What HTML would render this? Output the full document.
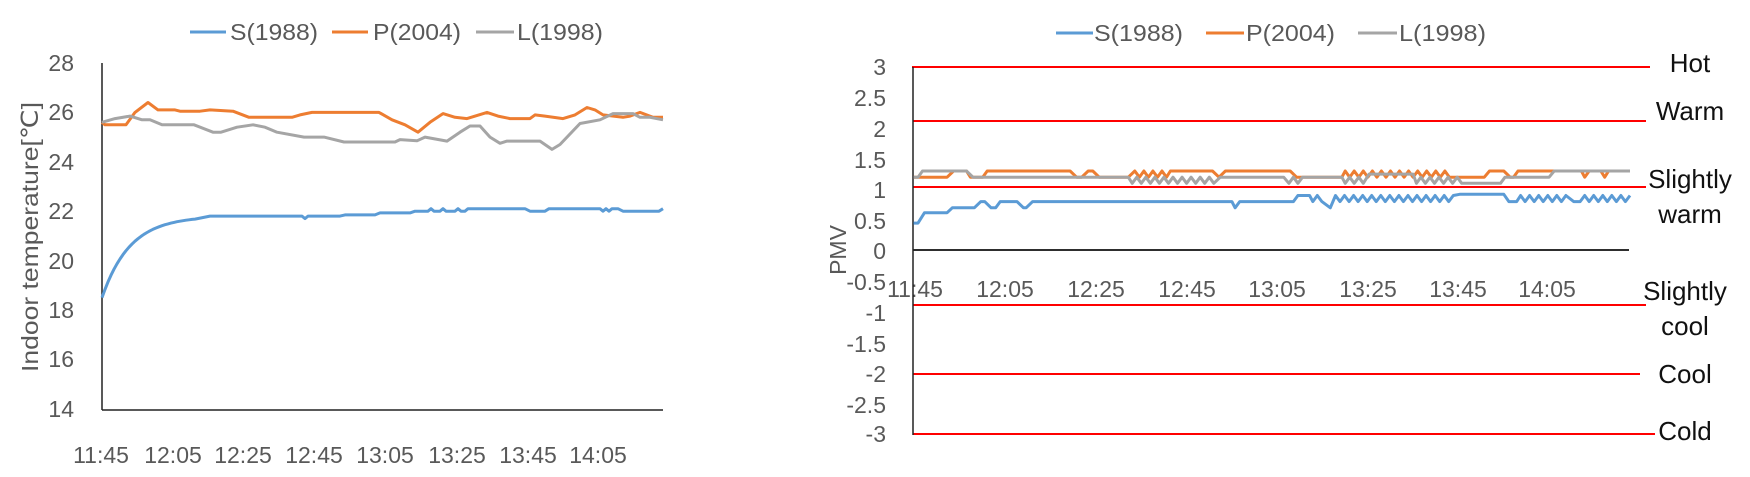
<!DOCTYPE html>
<html><head><meta charset="utf-8"><style>
html,body{margin:0;padding:0;background:#fff;}
svg{display:block;font-family:"Liberation Sans",sans-serif;}
</style></head><body>
<svg id="s" width="1750" height="477" viewBox="0 0 1750 477" xmlns="http://www.w3.org/2000/svg">
<!-- LEFT CHART -->
<g fill="#595959" font-size="23">
 <g text-anchor="end">
  <text x="74" y="71">28</text><text x="74" y="120">26</text><text x="74" y="170">24</text><text x="74" y="219">22</text>
  <text x="74" y="269">20</text><text x="74" y="318">18</text><text x="74" y="367">16</text><text x="74" y="417">14</text>
 </g>
 <g text-anchor="middle">
  <text x="101" y="463">11:45</text><text x="173" y="463">12:05</text><text x="243" y="463">12:25</text><text x="314" y="463">12:45</text>
  <text x="385" y="463">13:05</text><text x="457" y="463">13:25</text><text x="528" y="463">13:45</text><text x="598" y="463">14:05</text>
 </g>
 <text transform="translate(38,237) rotate(-90)" text-anchor="middle" font-size="23" textLength="270" lengthAdjust="spacingAndGlyphs">Indoor temperature[℃]</text>
 <g font-size="23">
  <line x1="190" y1="32" x2="226" y2="32" stroke="#5B9BD5" stroke-width="3"/><text x="230" y="40" textLength="88" lengthAdjust="spacingAndGlyphs">S(1988)</text>
  <line x1="332" y1="32" x2="368" y2="32" stroke="#ED7D31" stroke-width="3"/><text x="373" y="40" textLength="88" lengthAdjust="spacingAndGlyphs">P(2004)</text>
  <line x1="476" y1="32" x2="514" y2="32" stroke="#A5A5A5" stroke-width="3"/><text x="517" y="40" textLength="86" lengthAdjust="spacingAndGlyphs">L(1998)</text>
 </g>
</g>
<line x1="102" y1="63" x2="102" y2="410" stroke="#222" stroke-width="1.5"/>
<line x1="102" y1="410" x2="663" y2="410" stroke="#222" stroke-width="1.5"/>
<g id="left" fill="none" stroke-width="3" stroke-linejoin="round"></g>

<!-- RIGHT CHART -->
<g fill="#595959" font-size="23" text-anchor="end">
  <text x="886" y="75">3</text><text x="886" y="106">2.5</text><text x="886" y="137">2</text><text x="886" y="168">1.5</text>
  <text x="886" y="198">1</text><text x="886" y="229">0.5</text><text x="886" y="259">0</text><text x="886" y="290">-0.5</text>
  <text x="886" y="321">-1</text><text x="886" y="352">-1.5</text><text x="886" y="382">-2</text><text x="886" y="413">-2.5</text><text x="886" y="442">-3</text>
</g>
<g fill="#595959" font-size="23" text-anchor="middle">
  <text x="915" y="297">11:45</text><text x="1005" y="297">12:05</text><text x="1096" y="297">12:25</text><text x="1187" y="297">12:45</text>
  <text x="1277" y="297">13:05</text><text x="1368" y="297">13:25</text><text x="1458" y="297">13:45</text><text x="1547" y="297">14:05</text>
  <text transform="translate(846,250) rotate(-90)" font-size="23">PMV</text>
</g>
<g fill="#595959" font-size="23">
  <line x1="1056" y1="33" x2="1093" y2="33" stroke="#5B9BD5" stroke-width="3"/><text x="1094" y="41" textLength="89" lengthAdjust="spacingAndGlyphs">S(1988)</text>
  <line x1="1206" y1="33" x2="1244" y2="33" stroke="#ED7D31" stroke-width="3"/><text x="1246" y="41" textLength="89" lengthAdjust="spacingAndGlyphs">P(2004)</text>
  <line x1="1358" y1="33" x2="1397" y2="33" stroke="#A5A5A5" stroke-width="3"/><text x="1399" y="41" textLength="87" lengthAdjust="spacingAndGlyphs">L(1998)</text>
</g>
<g stroke="#FF0000" stroke-width="2">
  <line x1="912" y1="67" x2="1650" y2="67"/><line x1="913" y1="121" x2="1646" y2="121"/>
  <line x1="913" y1="187" x2="1646" y2="187"/><line x1="913" y1="305" x2="1646" y2="305"/>
  <line x1="913" y1="374" x2="1640" y2="374"/><line x1="913" y1="434" x2="1655" y2="434"/>
</g>
<line x1="913" y1="250" x2="1629" y2="250" stroke="#111" stroke-width="1.8"/>
<line x1="913" y1="67" x2="913" y2="435" stroke="#222" stroke-width="1.5"/>
<g id="right" fill="none" stroke-width="3" stroke-linejoin="round"></g>
<g fill="#111" font-size="26" text-anchor="middle">
  <text x="1690" y="72">Hot</text><text x="1690" y="120">Warm</text>
  <text x="1690" y="188">Slightly</text><text x="1690" y="223">warm</text>
  <text x="1685" y="300">Slightly</text><text x="1685" y="335">cool</text>
  <text x="1685" y="383">Cool</text><text x="1685" y="440">Cold</text>
</g>
</svg>
<script>
var NS="http://www.w3.org/2000/svg";
function addPath(g,d,c){var p=document.createElementNS(NS,"path");p.setAttribute("d",d);p.setAttribute("stroke",c);document.getElementById(g).appendChild(p);}
function ly(v){return 63+(28-v)*24.7;}
function kp(pts){return "M"+pts.map(function(p){return p[0]+","+ly(p[1]).toFixed(1);}).join(" L");}
var s=[];for(var x=102;x<=195;x+=3){s.push([x,21.8-3.3*Math.exp(-(x-102)/28)]);}
s=s.concat([[210,21.8],[302,21.8],[305,21.7],[308,21.8],[340,21.8],[345,21.85],[375,21.85],[380,21.93],[410,21.93],[415,22.0],[428,22.0],[431,22.1],[434,22.0],[440,22.0],[443,22.1],[446,22.0],[455,22.0],[458,22.1],[461,22.0],[465,22.0],[468,22.1],[525,22.1],[530,22.0],[545,22.0],[549,22.1],[600,22.1],[603,22.0],[606,22.1],[609,22.0],[612,22.1],[618,22.1],[623,22.0],[659,22.0],[663,22.1]]);
addPath("left",kp(s),"#5B9BD5");
var p=[[102,25.6],[105,25.5],[126,25.5],[135,26.0],[148,26.4],[158,26.1],[175,26.1],[180,26.05],[200,26.05],[210,26.1],[233,26.05],[249,25.8],[292,25.8],[300,25.9],[312,26.0],[379,26.0],[392,25.7],[405,25.5],[418,25.2],[430,25.6],[443,25.95],[455,25.8],[467,25.75],[487,26.0],[498,25.85],[510,25.75],[530,25.75],[535,25.9],[545,25.85],[563,25.75],[575,25.9],[587,26.2],[595,26.1],[603,25.9],[623,25.8],[630,25.85],[640,26.0],[653,25.8],[663,25.8]];
addPath("left",kp(p),"#ED7D31");
var l=[[102,25.6],[115,25.75],[130,25.85],[142,25.7],[150,25.7],[162,25.5],[194,25.5],[213,25.2],[221,25.2],[237,25.4],[253,25.5],[265,25.4],[277,25.2],[304,25.0],[324,25.0],[344,24.8],[395,24.8],[400,24.9],[417,24.85],[425,25.0],[447,24.84],[460,25.2],[470,25.45],[480,25.45],[490,25.0],[500,24.75],[507,24.84],[540,24.84],[552,24.5],[560,24.7],[580,25.55],[600,25.7],[613,25.95],[633,25.95],[640,25.8],[650,25.8],[663,25.7]];
addPath("left",kp(l),"#A5A5A5");
function ry(v){return 67+(3-v)*61.2;}
function zx(z){return 740+z/1.545;}
function build(segs){var pts=[];segs.forEach(function(sg){var a=sg[0],b=sg[1],m=sg[2];
 if(typeof m==="number"){pts.push([zx(a),m]);pts.push([zx(b),m]);}
 else{var k=0;for(var z=a;z<=b;z+=7){pts.push([zx(z),m[k%2]]);k++;}}});
 return "M"+pts.map(function(q){return q[0].toFixed(1)+","+ry(q[1]).toFixed(1);}).join(" L");}
addPath("right",build([[268,275,0.45],[285,320,0.62],[328,362,0.7],[372,378,0.8],[388,395,0.7],[402,428,0.8],[438,442,0.7],[452,760,0.8],[765,765,0.7],[772,855,0.8],[862,880,0.9],[885,905,[0.8,0.9]],[912,912,0.7],[920,1105,[0.9,0.8]],[1112,1180,0.92],[1188,1200,0.8],[1206,1280,[0.9,0.8]],[1288,1298,0.8],[1305,1375,[0.9,0.8]]]),"#5B9BD5");
addPath("right",build([[268,320,1.2],[330,350,1.3],[356,375,1.2],[382,510,1.3],[520,528,1.2],[538,545,1.3],[555,600,1.2],[610,660,[1.3,1.2]],[665,730,1.3],[740,740,1.2],[750,850,1.3],[860,930,1.2],[935,1100,[1.3,1.2]],[1110,1150,1.2],[1158,1180,1.3],[1190,1195,1.2],[1202,1300,1.3],[1305,1305,1.2],[1312,1330,1.3],[1336,1336,1.2],[1342,1375,1.3]]),"#ED7D31");
addPath("right",build([[268,275,1.2],[282,350,1.3],[360,600,1.2],[606,735,[1.1,1.2]],[742,840,1.2],[848,870,[1.1,1.2]],[878,930,1.2],[935,965,[1.1,1.2]],[972,1040,1.25],[1045,1115,[1.1,1.2]],[1120,1175,1.1],[1182,1250,1.2],[1258,1375,1.3]]),"#A5A5A5");
</script>
</body></html>
